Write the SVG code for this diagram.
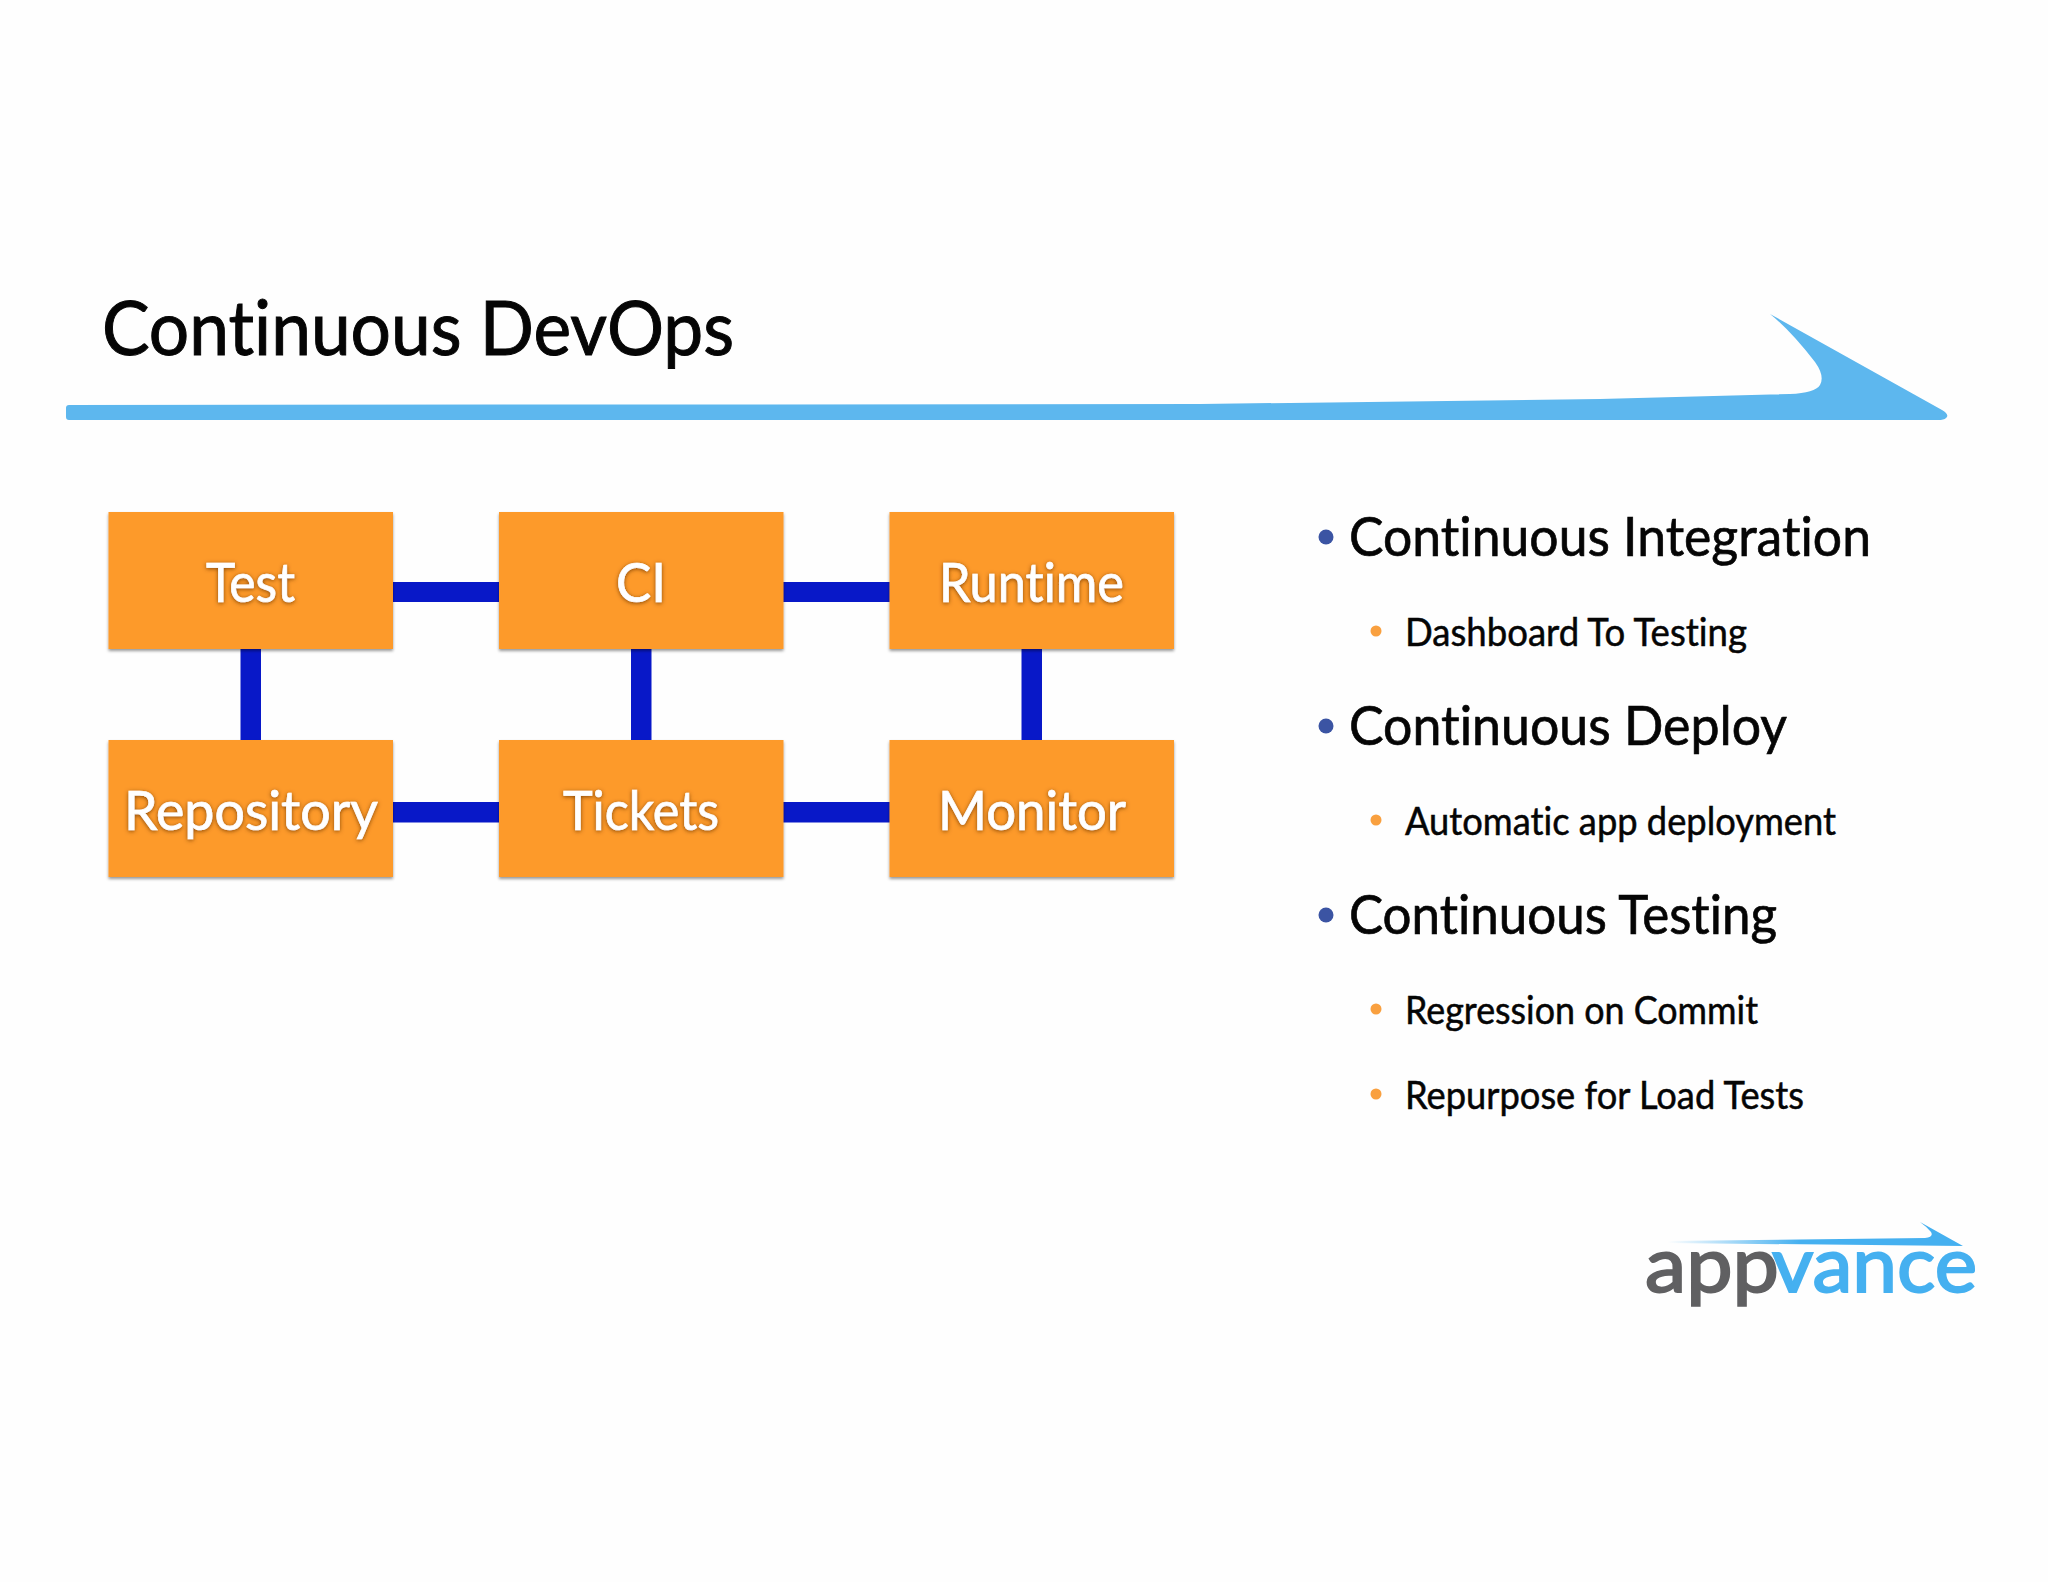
<svg xmlns="http://www.w3.org/2000/svg" width="2048" height="1582" viewBox="0 0 2048 1582">
<defs>
<filter id="boxShadow" x="-5%" y="-5%" width="110%" height="115%"><feDropShadow dx="0" dy="2" stdDeviation="1.5" flood-color="#000" flood-opacity="0.4"/></filter>
<filter id="textGlow" x="-10%" y="-15%" width="120%" height="130%"><feDropShadow dx="0" dy="1" stdDeviation="2" flood-color="#7a3c00" flood-opacity="0.9"/></filter>
<linearGradient id="fade" x1="1668" x2="1800" y1="0" y2="0" gradientUnits="userSpaceOnUse"><stop offset="0" stop-color="#45B0F0" stop-opacity="0"/><stop offset="1" stop-color="#45B0F0"/></linearGradient>
</defs>
<style>
text{font-family:"Lato","Liberation Sans",sans-serif;font-variant-ligatures:none}
.box{fill:#FD9A2A;filter:url(#boxShadow)}
.nl{font-size:55px;fill:#fff;stroke:#fff;stroke-width:.7px;filter:url(#textGlow)}
.h1{font-size:55px;fill:#050505;stroke:#050505;stroke-width:.7px}
.h2{font-size:38px;fill:#050505;stroke:#050505;stroke-width:.5px}
.d1{fill:#3B54A3}
.d2{fill:#F9A03F}
.c{fill:#0818C8}
</style>
<rect width="2048" height="1582" fill="#FEFEFE"/>
<text x="102" y="355" font-size="75" fill="#050505" stroke="#050505" stroke-width="1" textLength="632" lengthAdjust="spacingAndGlyphs">Continuous DevOps</text>
<path id="arrow" d="M69 405 L1200 404 L1600 399 L1790 394 Q1815 393 1820 385 Q1825 376 1815 362 Q1790 330 1770 314 L1942 410 Q1950 415 1946 418 Q1944 420 1938 420 L69 420 Q66 420 66 417 L66 408 Q66 405 69 405 Z" fill="#5DB7EE"/>
<g id="connectors">
<rect class="c" x="393" y="582" width="106" height="20"/>
<rect class="c" x="783" y="582" width="107" height="20"/>
<rect class="c" x="393" y="802" width="106" height="20.500"/>
<rect class="c" x="783" y="802" width="107" height="20.500"/>
<rect class="c" x="240.500" y="649" width="20.500" height="91"/>
<rect class="c" x="631" y="649" width="20.500" height="91"/>
<rect class="c" x="1021.500" y="649" width="20.500" height="91"/>
</g>
<g id="node-test"><rect class="box" x="108.500" y="512" width="284.500" height="137"/><text class="nl" x="206" y="602" textLength="89" lengthAdjust="spacingAndGlyphs">Test</text></g>
<g id="node-ci"><rect class="box" x="499" y="512" width="284.500" height="137"/><text class="nl" x="616" y="602" textLength="50" lengthAdjust="spacingAndGlyphs">CI</text></g>
<g id="node-runtime"><rect class="box" x="889.500" y="512" width="284.500" height="137"/><text class="nl" x="939" y="602" textLength="185" lengthAdjust="spacingAndGlyphs">Runtime</text></g>
<g id="node-repository"><rect class="box" x="108.500" y="740" width="284.500" height="137"/><text class="nl" x="124" y="830" textLength="254" lengthAdjust="spacingAndGlyphs">Repository</text></g>
<g id="node-tickets"><rect class="box" x="499" y="740" width="284.500" height="137"/><text class="nl" x="563" y="830" textLength="156" lengthAdjust="spacingAndGlyphs">Tickets</text></g>
<g id="node-monitor"><rect class="box" x="889.500" y="740" width="284.500" height="137"/><text class="nl" x="938" y="830" textLength="188" lengthAdjust="spacingAndGlyphs">Monitor</text></g>
<g id="bullets">
<circle class="d1" cx="1326" cy="537" r="7.500"/><text class="h1" x="1349" y="556" textLength="522" lengthAdjust="spacingAndGlyphs">Continuous Integration</text>
<circle class="d2" cx="1376" cy="631" r="5.500"/><text class="h2" x="1405" y="646" textLength="342" lengthAdjust="spacingAndGlyphs">Dashboard To Testing</text>
<circle class="d1" cx="1326" cy="726" r="7.500"/><text class="h1" x="1349" y="745" textLength="438" lengthAdjust="spacingAndGlyphs">Continuous Deploy</text>
<circle class="d2" cx="1376" cy="820" r="5.500"/><text class="h2" x="1405" y="835" textLength="431" lengthAdjust="spacingAndGlyphs">Automatic app deployment</text>
<circle class="d1" cx="1326" cy="915" r="7.500"/><text class="h1" x="1349" y="934" textLength="428" lengthAdjust="spacingAndGlyphs">Continuous Testing</text>
<circle class="d2" cx="1376" cy="1009" r="5.500"/><text class="h2" x="1405" y="1024" textLength="353" lengthAdjust="spacingAndGlyphs">Regression on Commit</text>
<circle class="d2" cx="1376" cy="1094" r="5.500"/><text class="h2" x="1405" y="1109" textLength="399" lengthAdjust="spacingAndGlyphs">Repurpose for Load Tests</text>
</g>
<g id="logo">
<path d="M1668 1241 L1925 1238 Q1934 1237 1931 1232 Q1927 1227 1920 1222 L1963 1246 L1668 1243 Z" fill="url(#fade)"/>
<text x="1645" y="1292" font-size="78" fill="#606062" stroke="#606062" stroke-width="2" textLength="134" lengthAdjust="spacingAndGlyphs">app</text>
<text x="1772" y="1292" font-size="78" fill="#45B0F0" stroke="#45B0F0" stroke-width="2" textLength="205" lengthAdjust="spacingAndGlyphs">vance</text>
</g>
</svg>
